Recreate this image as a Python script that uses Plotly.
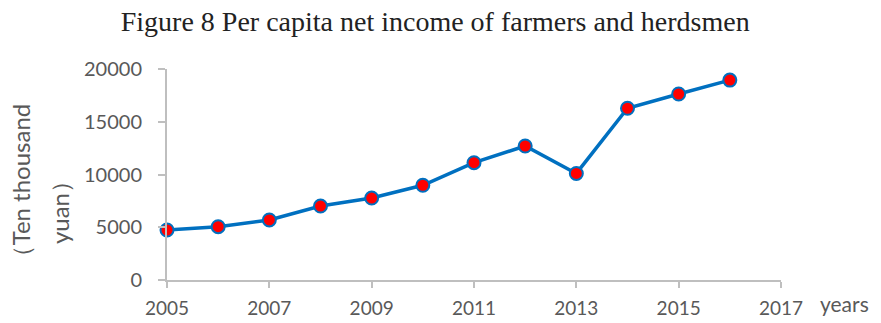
import plotly.graph_objects as go

# Per capita net income of farmers and herdsmen, 2005-2016
years = [2005, 2006, 2007, 2008, 2009, 2010, 2011, 2012, 2013, 2014, 2015, 2016]
income = [4740, 5050, 5690, 7010, 7770, 8980, 11120, 12700, 10100, 16280, 17630, 18950]

x_ticks = [2005, 2007, 2009, 2011, 2013, 2015, 2017]
y_ticks = [0, 5000, 10000, 15000, 20000]

grey = "#595959"
axis_grey = "#BFBFBF"

fig = go.Figure()
fig.add_trace(go.Scatter(
    x=years, y=income, mode="lines+markers",
    line=dict(color="#0070C0", width=3.5),
    marker=dict(color="#FF0000", size=13, line=dict(color="#0070C0", width=2)),
    cliponaxis=False, showlegend=False,
))

fig.update_layout(
    width=881, height=323,
    margin=dict(l=167, r=100, t=69, b=43),
    paper_bgcolor="white", plot_bgcolor="white",
    title=dict(
        text="Figure 8 Per capita net income of farmers and herdsmen",
        x=0.494, xanchor="center", y=0.935, yanchor="middle",
        font=dict(family="Liberation Serif", size=28, color="#222222"),
    ),
    xaxis=dict(
        range=[2005, 2017], tickvals=x_ticks, ticktext=[str(v) for v in x_ticks],
        showgrid=False, zeroline=False, showline=True, linecolor=axis_grey, linewidth=2,
        ticks="outside", ticklen=6, tickcolor=axis_grey, tickwidth=2,
        ticklabelstandoff=4, automargin=False,
        tickfont=dict(family="Lato", size=19, color=grey),
    ),
    yaxis=dict(
        range=[0, 20000], tickvals=y_ticks, ticktext=[str(v) for v in y_ticks],
        showgrid=False, zeroline=False, showline=True, linecolor=axis_grey, linewidth=2,
        ticks="outside", ticklen=7, tickcolor=axis_grey, tickwidth=2,
        ticklabelstandoff=12, automargin=False,
        tickfont=dict(family="Lato", size=20, color=grey),
    ),
    annotations=[
        dict(text="（Ten thousand", xref="paper", yref="paper",
             x=-0.239, y=0.445, xanchor="center", yanchor="middle",
             textangle=-90, showarrow=False,
             font=dict(family="Lato", size=24, color=grey)),
        dict(text="yuan）", xref="paper", yref="paper",
             x=-0.176, y=0.35, xanchor="center", yanchor="middle",
             textangle=-90, showarrow=False,
             font=dict(family="Lato", size=24, color=grey)),
        dict(text="years", xref="paper", yref="paper",
             x=1.06, y=-0.11, xanchor="left", yanchor="middle",
             showarrow=False, font=dict(family="Lato", size=21, color=grey)),
    ],
)

fig.write_html("out.html")
